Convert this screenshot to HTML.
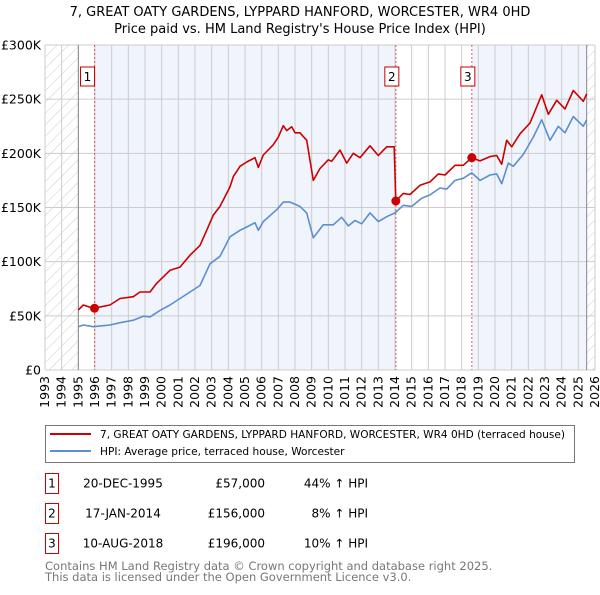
<!DOCTYPE html>
<html><head><meta charset="utf-8"><style>
body{margin:0;background:#fff;font-family:"Liberation Sans","DejaVu Sans",sans-serif;}
svg text{font-family:"DejaVu Sans","Liberation Sans",sans-serif;}
</style></head><body>
<svg id="chart" width="600" height="590" viewBox="0 0 600 590" xmlns="http://www.w3.org/2000/svg">
<defs><pattern id="hatch" patternUnits="userSpaceOnUse" width="8" height="8" patternTransform="rotate(45)"><line x1="0" y1="0" x2="0" y2="8" stroke="#ccc" stroke-width="1"/></pattern></defs>
<text x="300" y="16" text-anchor="middle" font-size="13">7, GREAT OATY GARDENS, LYPPARD HANFORD, WORCESTER, WR4 0HD</text>
<text x="300" y="33" text-anchor="middle" font-size="13">Price paid vs. HM Land Registry's House Price Index (HPI)</text>
<g id="plot"></g>
<g>
<rect x="45.5" y="425.5" width="529" height="37" fill="#fff" stroke="#777"/>
<line x1="50" y1="434" x2="91" y2="434" stroke="#cc0000" stroke-width="2"/>
<text x="100" y="438" font-size="10.6" textLength="465" lengthAdjust="spacingAndGlyphs">7, GREAT OATY GARDENS, LYPPARD HANFORD, WORCESTER, WR4 0HD (terraced house)</text>
<line x1="50" y1="451" x2="91" y2="451" stroke="#5b8fd0" stroke-width="2"/>
<text x="100" y="455" font-size="10.6">HPI: Average price, terraced house, Worcester</text>
</g>
<g id="table"></g>
<text x="45" y="570" font-size="11.5" fill="#777">Contains HM Land Registry data © Crown copyright and database right 2025.</text>
<text x="45" y="581" font-size="11.5" fill="#777">This data is licensed under the Open Government Licence v3.0.</text>
</svg>
<script>
const yTicks=[0,50000,100000,150000,200000,250000,300000];
const yTickLabels=["£0","£50K","£100K","£150K","£200K","£250K","£300K"];
const xYears=[1993,1994,1995,1996,1997,1998,1999,2000,2001,2002,2003,2004,2005,2006,2007,2008,2009,2010,2011,2012,2013,2014,2015,2016,2017,2018,2019,2020,2021,2022,2023,2024,2025,2026];
const hpiT=[1995.0,1995.3,1995.9,1996.9,1997.5,1998.3,1998.9,1999.3,1999.9,2000.5,2001.1,2001.7,2002.3,2002.9,2003.5,2004.1,2004.7,2005.1,2005.6,2005.8,2006.1,2006.9,2007.3,2007.7,2008.3,2008.7,2009.1,2009.7,2010.3,2010.8,2011.2,2011.6,2012.0,2012.5,2013.0,2013.5,2014.0,2014.5,2015.0,2015.6,2016.1,2016.7,2017.1,2017.6,2018.1,2018.6,2019.1,2019.7,2020.1,2020.4,2020.8,2021.1,2021.7,2022.3,2022.8,2023.3,2023.8,2024.2,2024.7,2025.3,2025.5];
const hpiV=[40,41.5,40,41.5,43.7,46,49.7,49,55,60,66,72,78,98,105,123,129,132,136,129,137,148,155,155,151,145,122,134,134,141,133,138,135,145,137,141.5,145,152,151,158.5,161.6,168,167,175,177,182,175,180,181,172,191,188,199,215,231,212,225,219,234,225,231];
const priceT=[1995.0,1995.3,1995.9,1996.9,1997.5,1998.3,1998.7,1999.3,1999.7,2000.5,2001.1,2001.7,2002.3,2002.7,2003.1,2003.5,2004.1,2004.3,2004.7,2005.1,2005.6,2005.8,2006.1,2006.7,2007.0,2007.3,2007.5,2007.8,2008.0,2008.3,2008.7,2009.1,2009.5,2010.0,2010.2,2010.7,2011.1,2011.5,2011.9,2012.5,2013.0,2013.5,2013.95,2014.05,2014.5,2014.9,2015.5,2016.1,2016.6,2017.0,2017.6,2018.1,2018.6,2019.1,2019.7,2020.1,2020.4,2020.7,2021.0,2021.5,2022.1,2022.8,2023.2,2023.7,2024.2,2024.7,2025.3,2025.5];
const priceV=[55.4,60,57,60,66,67.7,72,72,80,92,95,106,115,129,143,151,169,178.5,188,192,196,187,198.5,208,215,225.5,221,224.5,219,219,212,175,186,194,192.6,203,191,200,196,207,198,206,206,156,163,162,170.5,173.6,181,180,189,189,196,193,197,198,190,212,206,218,228,254,236,249,241,258,248,255];
const saleT=[1995.97,2014.05,2018.61];
const saleV=[57,156,196];
const saleLabels=["1","2","3"];
const saleDates=["20-DEC-1995","17-JAN-2014","10-AUG-2018"];
const salePrices=["£57,000","£156,000","£196,000"];
const saleHpi=["44% ↑ HPI","8% ↑ HPI","10% ↑ HPI"];

const NS="http://www.w3.org/2000/svg";
const X0=45,X1=595,Y0=370,Y1=45;
const xs=t=>X0+(t-1993)/(2026-1993)*(X1-X0);
const ys=v=>Y0-v/300000*(Y0-Y1);
const plot=document.getElementById('plot');
function mk(tag,attrs,parent){const e=document.createElementNS(NS,tag);for(const k in attrs)e.setAttribute(k,attrs[k]);(parent||plot).appendChild(e);return e;}
let bg=mk('rect',{x:xs(1995),y:Y1,width:xs(2025.5)-xs(1995),height:Y0-Y1,fill:'#f0f4fc'});


mk('rect',{x:xs(1995),y:Y1,width:xs(saleT[0])-xs(1995),height:Y0-Y1,fill:'#fff'});
mk('rect',{x:xs(saleT[1]),y:Y1,width:xs(saleT[2])-xs(saleT[1]),height:Y0-Y1,fill:'#fff'});
let h1=mk('rect',{x:X0,y:Y1,width:xs(1995)-X0,height:Y0-Y1,fill:'url(#hatch)'});


let h2=mk('rect',{x:xs(2025.5),y:Y1,width:X1-xs(2025.5),height:Y0-Y1,fill:'url(#hatch)'});


xYears.forEach(y=>{mk('line',{x1:xs(y),x2:xs(y),y1:Y1,y2:Y0,stroke:'#ccc','stroke-width':1});
 const t=mk('text',{x:0,y:0,transform:`translate(${xs(y)+4},376) rotate(-90)`,'text-anchor':'end','font-size':12.5});t.textContent=y;
 
 });
yTicks.forEach((v,i)=>{mk('line',{x1:X0,x2:X1,y1:ys(v),y2:ys(v),stroke:'#ccc','stroke-width':1});
 const t=mk('text',{x:41,y:ys(v)+4.5,'text-anchor':'end','font-size':12.5});t.textContent=yTickLabels[i];
 
 });
mk('line',{x1:xs(1995),x2:xs(1995),y1:Y1,y2:Y0,stroke:'#888'});
mk('line',{x1:xs(2025.5),x2:xs(2025.5),y1:Y1,y2:Y0,stroke:'#888'});
saleT.forEach((t,i)=>{mk('line',{x1:xs(t),x2:xs(t),y1:Y1,y2:Y0,stroke:'#e06060','stroke-dasharray':'2,2'});
 const bx=mk('rect',{x:xs(t)-(i==0?14:11),y:67,width:14,height:19,fill:'#fff',stroke:'#cc0000'});
 
 
 const tt=mk('text',{x:xs(t)-(i==0?7:4),y:81,'text-anchor':'middle','font-size':12});tt.textContent=saleLabels[i];});
function path(T,V,color,name){let d=T.map((t,i)=>(i?'L':'M')+xs(t).toFixed(1)+','+ys(V[i]*1000).toFixed(1)).join('');
 const p=mk('path',{d:d,fill:'none',stroke:color,'stroke-width':1.6,'stroke-linejoin':'round'});
 
 }
path(hpiT,hpiV,'#5b8fd0','hpi-line');
path(priceT,priceV,'#cc0000','price-paid-line');
saleT.forEach((t,i)=>{const c=mk('circle',{cx:xs(t),cy:ys(saleV[i]*1000),r:4.5,fill:'#cc0000'});
 
 });
const tb=document.getElementById('table');
saleLabels.forEach((l,i)=>{const cy=483+i*30;
 mk('rect',{x:45.5,y:cy-9.5,width:13,height:20,fill:'#fff',stroke:'#cc0000'},tb);
 let t=mk('text',{x:52,y:cy+4.5,'text-anchor':'middle','font-size':12},tb);t.textContent=l;
 t=mk('text',{x:123,y:cy+4.5,'text-anchor':'middle','font-size':12},tb);t.textContent=saleDates[i];
 
 
 t=mk('text',{x:265,y:cy+4.5,'text-anchor':'end','font-size':12},tb);t.textContent=salePrices[i];
 
 
 t=mk('text',{x:368,y:cy+4.5,'text-anchor':'end','font-size':12},tb);t.textContent=saleHpi[i];
 
 });
</script>
</body></html>
